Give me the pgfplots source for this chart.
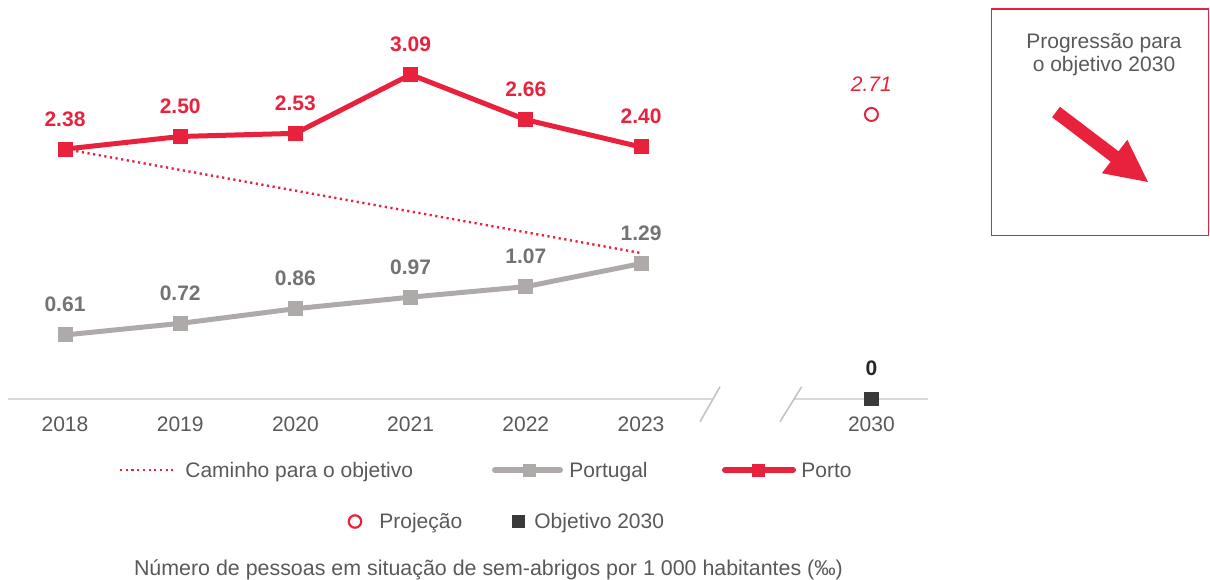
\documentclass[border=0pt]{standalone}
\usepackage{pgfplots}
\pgfplotsset{compat=1.18}
\usepackage{fontspec}
\setmainfont{Liberation Sans}

\definecolor{pred}{HTML}{E8223D}
\definecolor{pgray}{HTML}{AEAAAA}
\definecolor{lblgray}{HTML}{737373}
\definecolor{txtgray}{HTML}{595959}
\definecolor{axgray}{HTML}{D9D9D9}
\definecolor{slashgray}{HTML}{C4C4C4}
\definecolor{objsq}{HTML}{3A3A3A}
\definecolor{objlbl}{HTML}{262626}

\newcommand{\lf}{\fontsize{10.5}{12.6}\selectfont}

\begin{document}
\begin{tikzpicture}
\begin{axis}[
  name=ax, at={(0,0)}, anchor=south west,
  width=605pt, height=289.5pt, scale only axis,
  xmin=-0.56424, xmax=9.9392,
  ymin=-1.7143, ymax=3.80,
  hide axis, clip=false,
  point meta=explicit symbolic,
  every node near coord/.append style={anchor=base, yshift=11.5pt,
    inner sep=0pt, font=\lf\bfseries},
]
% broken x axis line (value 0)
\draw[axgray, line width=1pt] (axis cs:-0.4948,0) -- (axis cs:5.625,0);
\draw[axgray, line width=1pt] (axis cs:6.3194,0) -- (axis cs:7.4913,0);

% path to the 2030 objective
\addplot[pred, line width=1.2pt, dash pattern=on 1.1pt off 1.75pt, no marks]
  coordinates {(0,2.38) (5,1.39)};

% Portugal
\addplot[pgray, line width=2.5pt, mark=square*, mark size=3.5pt,
  mark options={solid, fill=pgray, draw=pgray, line width=0pt},
  nodes near coords, every node near coord/.append style={text=lblgray}]
  coordinates {(0,0.61) [0.61] (1,0.72) [0.72] (2,0.86) [0.86]
               (3,0.97) [0.97] (4,1.07) [1.07] (5,1.29) [1.29]};

% Porto
\addplot[pred, line width=2.5pt, mark=square*, mark size=3.5pt,
  mark options={solid, fill=pred, draw=pred, line width=0pt},
  nodes near coords, every node near coord/.append style={text=pred}]
  coordinates {(0,2.38) [2.38] (1,2.50) [2.50] (2,2.53) [2.53]
               (3,3.09) [3.09] (4,2.66) [2.66] (5,2.40) [2.40]};

% projection 2030
\addplot[only marks, mark=o, mark size=3.25pt,
  mark options={draw=pred, line width=1pt},
  nodes near coords, every node near coord/.append style={text=pred, font=\lf\itshape}]
  coordinates {(7,2.71) [2.71]};

% objective 2030
\addplot[only marks, mark=square*, mark size=3.3pt,
  mark options={fill=objsq, draw=objsq, line width=0pt},
  nodes near coords, every node near coord/.append style={text=objlbl}]
  coordinates {(7,0) [0]};
\end{axis}

\begin{scope}[shift={(ax.north west)}, x=0.5pt, y=-0.5pt]
  % axis break marks
  \draw[slashgray, line width=0.8pt] (700,421.7) -- (720,386.7);
  \draw[slashgray, line width=0.8pt] (780,421.7) -- (801.7,386.7);
  % tick labels
  \foreach \xx/\yr in {65/2018, 180.2/2019, 295.4/2020, 410.6/2021, 525.8/2022, 641/2023, 871.4/2030}
    \node[anchor=base, inner sep=0pt, text=txtgray, font=\lf] at (\xx,431) {\yr};

  % legend row 1
  \draw[pred, line width=1.2pt, dash pattern=on 1.1pt off 1.75pt] (120,470) -- (173,470);
  \node[anchor=base west, inner sep=0pt, text=txtgray, font=\lf] at (185,477) {Caminho para o objetivo};
  \draw[pgray, line width=3pt, line cap=round] (495,470) -- (560,470);
  \fill[pgray] (522.5,463.5) rectangle (535.5,476.5);
  \node[anchor=base west, inner sep=0pt, text=txtgray, font=\lf] at (569,477) {Portugal};
  \draw[pred, line width=3pt, line cap=round] (725,470) -- (793,470);
  \fill[pred] (751.5,463.5) rectangle (764.5,476.5);
  \node[anchor=base west, inner sep=0pt, text=txtgray, font=\lf] at (801,477) {Porto};

  % legend row 2
  \draw[pred, line width=1.1pt] (355,521.5) circle[radius=3.1pt];
  \node[anchor=base west, inner sep=0pt, text=txtgray, font=\lf] at (379,528.5) {Projeção};
  \fill[objsq] (511.5,515) rectangle (524.5,528);
  \node[anchor=base west, inner sep=0pt, text=txtgray, font=\lf] at (534,528.5) {Objetivo 2030};

  % caption
  \node[anchor=base, inner sep=0pt, text=txtgray, font=\fontsize{10.7}{12.8}\selectfont] at (488.5,575.5)
    {Número de pessoas em situação de sem-abrigos por 1 000 habitantes (‰)};

  % progression box
  \draw[pred, line width=0.8pt] (991.5,9) rectangle (1208.5,235.5);
  \node[anchor=base, inner sep=0pt, text=txtgray, font=\lf] at (1104,48.3) {Progressão para};
  \node[anchor=base, inner sep=0pt, text=txtgray, font=\lf] at (1104,71.7) {o objetivo 2030};
  \fill[pred] (1059.9,106.8) -- (1118.5,151.3) -- (1127.3,139.8) -- (1148,182)
    -- (1101.9,173.2) -- (1110.7,161.7) -- (1052.1,117.2) -- cycle;
\end{scope}

\pgfresetboundingbox
\useasboundingbox (0,0) rectangle (605pt,289.5pt);
\end{tikzpicture}
\end{document}
